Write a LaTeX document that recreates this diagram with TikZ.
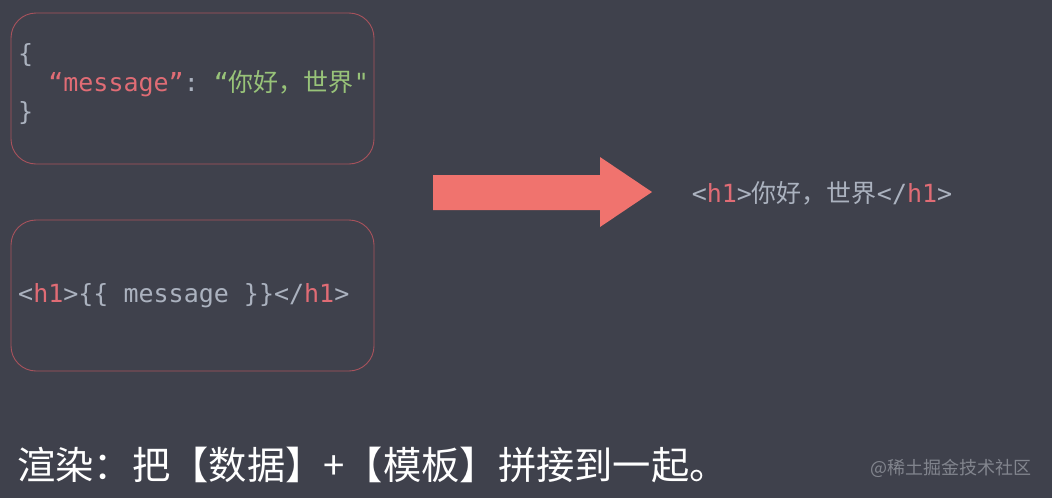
\documentclass[tikz,border=0pt]{standalone}
\usepackage{fontspec}
\setmonofont{DejaVu Sans Mono}
\newfontfamily\cjk{Noto Sans CJK SC}
\usetikzlibrary{positioning}
\definecolor{bgdark}{RGB}{63,65,76}
\definecolor{boxline}{RGB}{168,82,92}
\definecolor{keyred}{RGB}{224,108,117}
\definecolor{strgreen}{RGB}{152,195,121}
\definecolor{codegray}{RGB}{171,178,191}
\definecolor{arrowred}{RGB}{240,115,110}
\definecolor{markgray}{RGB}{130,133,142}
\tikzset{
  codebox/.style={rectangle,rounded corners=25pt,draw=boxline,line width=0.9pt,minimum width=363pt,minimum height=151pt},
  codetext/.style={anchor=west,inner sep=0pt,align=left,text=codegray,font=\ttfamily\fontsize{25}{29}\selectfont},
  captiontext/.style={anchor=west,inner sep=0pt,text=white,font=\cjk\fontsize{38.3}{41}\selectfont},
  marktext/.style={anchor=east,inner sep=0pt,text=markgray,font=\cjk\fontsize{18}{20}\selectfont}
}
\newcommand{\tagred}[1]{\textcolor{keyred}{#1}}

\begin{document}
\begin{tikzpicture}[x=1pt,y=-1pt]
  \fill[bgdark] (0,0) rectangle (1052,498);
  \useasboundingbox (0,0) rectangle (1052,498);

  % data and template boxes
  \node[codebox] (data) at (192.5,88.5) {};
  \node[codebox] (tmpl) at (192.5,295.5) {};
  \node[codetext] (datatext) at (18,84) {\{\\\phantom{00}\tagred{“message”}: \textcolor{strgreen}{“{\cjk 你好，世界}"}\\\}};
  \node[codetext] (tmpltext) at (18,296) {<\tagred{h1}>\{\{ message \}\}</\tagred{h1}>};

  % render arrow
  \fill[arrowred] (433,175) -- (600,175) -- (600,157) -- (652,192) -- (600,227) -- (600,210) -- (433,210) -- cycle;

  \node[codetext,anchor=center] (result) at (822,193) {<\tagred{h1}>{\cjk 你好，世界}</\tagred{h1}>};

  \node[captiontext] (caption) at (17,465) {渲染：把【数据】+【模板】拼接到一起。};
  \node[marktext] (mark) at (1032,468) {@稀土掘金技术社区};
\end{tikzpicture}
\end{document}
